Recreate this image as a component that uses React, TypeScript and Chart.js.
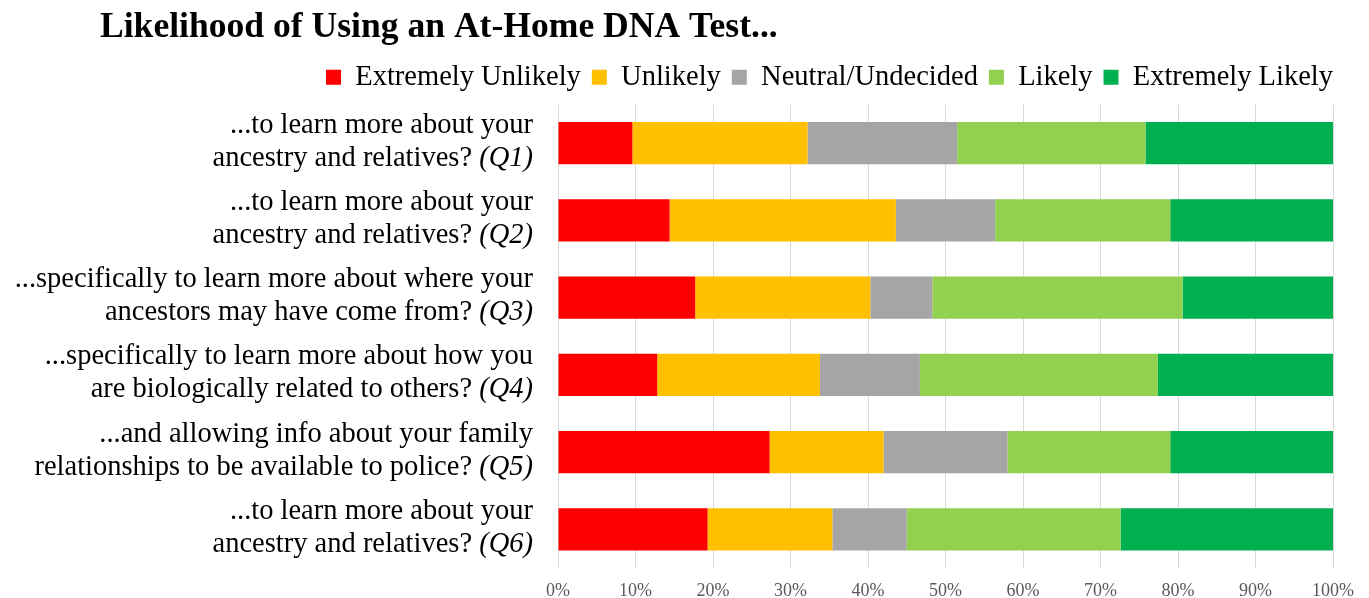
import React, { useEffect, useRef } from "react";
import { Chart, registerables } from "chart.js";

Chart.register(...registerables);

const FONT = "'Liberation Serif', 'Times New Roman', serif";

const chartTitle = "Likelihood of Using an At-Home DNA Test...";
const categories = ["Q1", "Q2", "Q3", "Q4", "Q5", "Q6"];
const labelLine1 = [
  "...to learn more about your",
  "...to learn more about your",
  "...specifically to learn more about where your",
  "...specifically to learn more about how you",
  "...and allowing info about your family",
  "...to learn more about your",
];
const labelLine2 = [
  "ancestry and relatives?",
  "ancestry and relatives?",
  "ancestors may have come from?",
  "are biologically related to others?",
  "relationships to be available to police?",
  "ancestry and relatives?",
];
const labelTags = ["(Q1)", "(Q2)", "(Q3)", "(Q4)", "(Q5)", "(Q6)"];

const seriesNames = ["Extremely Unlikely", "Unlikely", "Neutral/Undecided", "Likely", "Extremely Likely"];
const seriesColors = ["#FF0000", "#FFC000", "#A5A5A5", "#92D050", "#00B050"];

const extremelyUnlikely = [9.6, 14.4, 17.7, 12.8, 27.3, 19.3];
const unlikely = [22.6, 29.2, 22.6, 21.0, 14.7, 16.1];
const neutralUndecided = [19.3, 12.8, 8.0, 12.9, 16.0, 9.6];
const likely = [24.3, 22.6, 32.3, 30.7, 21.0, 27.6];
const extremelyLikely = [24.2, 21.0, 19.4, 22.6, 21.0, 27.4];

const xTickValues = [0, 10, 20, 30, 40, 50, 60, 70, 80, 90, 100];

const labelPlugin = {
  id: "customLabels",
  afterDraw(chart: any) {
    const ctx = chart.ctx;
    const yScale = chart.scales.y;
    ctx.save();
    ctx.fillStyle = "#000000";
    ctx.textBaseline = "middle";
    ctx.textAlign = "right";
    const xr = chart.chartArea.left - 25;
    categories.forEach((_c, i) => {
      const cy = yScale.getPixelForValue(i);
      ctx.font = `28.5px ${FONT}`;
      ctx.fillText(labelLine1[i], xr, cy - 18);
      ctx.font = `italic 28.5px ${FONT}`;
      const tw = ctx.measureText(labelTags[i]).width;
      ctx.fillText(labelTags[i], xr, cy + 15);
      ctx.font = `28.5px ${FONT}`;
      ctx.fillText(labelLine2[i] + " ", xr - tw, cy + 15);
    });
    ctx.textAlign = "left";
    ctx.font = `bold 35.6px ${FONT}`;
    ctx.fillText(chartTitle, 100, 28);
    ctx.restore();
  },
};

export default function App() {
  const canvasRef = useRef<HTMLCanvasElement | null>(null);

  useEffect(() => {
    if (!canvasRef.current) return;
    const seriesData = [extremelyUnlikely, unlikely, neutralUndecided, likely, extremelyLikely];
    const chart = new Chart(canvasRef.current, {
      type: "bar",
      data: {
        labels: categories,
        datasets: seriesNames.map((name, k) => ({
          label: name,
          data: seriesData[k],
          backgroundColor: seriesColors[k],
          borderWidth: 0,
          barPercentage: 0.55,
          categoryPercentage: 1,
          xAxisID: "x",
          yAxisID: "y",
        })),
      },
      options: {
        indexAxis: "y",
        responsive: false,
        animation: false,
        layout: { padding: { top: 52, right: 25, left: 0, bottom: 0 } },
        plugins: {
          title: { display: false },
          tooltip: { enabled: false },
          legend: {
            display: true,
            position: "top",
            align: "end",
            labels: {
              boxWidth: 15,
              boxHeight: 15,
              padding: 11,
              color: "#000000",
              font: { family: FONT, size: 28.5 },
            },
          },
        },
        scales: {
          x: {
            stacked: true,
            min: 0,
            max: 100,
            afterFit: (s: any) => {
              s.height = 30;
            },
            afterBuildTicks: (s: any) => {
              s.ticks = xTickValues.map((v) => ({ value: v }));
            },
            ticks: {
              callback: (v: any) => `${v}%`,
              color: "#595959",
              font: { family: FONT, size: 18 },
              padding: 12,
              maxRotation: 0,
            },
            grid: { color: "#D9D9D9", lineWidth: 1, drawTicks: false },
            border: { display: false },
          },
          xTopSpacer: {
            type: "linear",
            position: "top",
            min: 0,
            max: 1,
            afterFit: (s: any) => {
              s.height = 3;
            },
            ticks: { display: false },
            grid: { display: false, drawTicks: false },
            border: { display: false },
          },
          y: {
            stacked: true,
            afterFit: (s: any) => {
              s.width = 558;
            },
            ticks: { display: false },
            grid: { display: false, drawTicks: false },
            border: { display: false },
          },
          yRightSpacer: {
            type: "linear",
            position: "right",
            min: 0,
            max: 1,
            afterFit: (s: any) => {
              s.width = 11;
            },
            ticks: { display: false },
            grid: { display: false, drawTicks: false },
            border: { display: false },
          },
        },
      },
      plugins: [labelPlugin],
    });
    return () => chart.destroy();
  }, []);

  return (
    <div style={{ position: "absolute", left: 0, top: 0, width: 1369, height: 598, background: "#ffffff" }}>
      <canvas ref={canvasRef} width={1369} height={598} style={{ display: "block" }} />
    </div>
  );
}
